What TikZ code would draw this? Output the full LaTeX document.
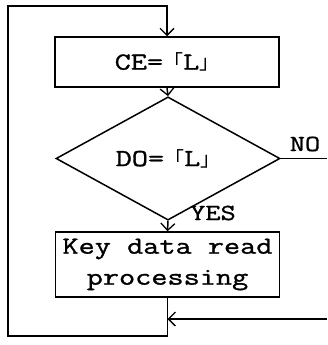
\documentclass[tikz,border=0pt]{standalone}
\usepackage{fontspec}
\setmonofont[FakeStretch=1.28,FakeBold=1.2]{Latin Modern Mono}
\newfontfamily\cjkfont{Noto Sans CJK JP}
\usetikzlibrary{shapes.geometric,arrows.meta}
\newcommand{\kopen}{{\cjkfont\fontsize{20}{20}\selectfont 「}}
\newcommand{\kclose}{{\cjkfont\fontsize{20}{20}\selectfont 」}}
\tikzset{
  flow/.style={line width=1.5pt},
  arr/.style={flow, -{Straight Barb[length=7pt,width=14pt,line width=1.3pt]}},
  stepbox/.style={draw, flow, minimum width=224pt, inner sep=0pt, align=center,
    font=\ttfamily\fontsize{24.5}{31}\selectfont},
  decision/.style={draw, flow, diamond, minimum width=224pt, minimum height=81pt,
    inner sep=0pt, font=\ttfamily\fontsize{24.5}{31}\selectfont},
  lbl/.style={font=\ttfamily\fontsize{23}{26}\selectfont, inner sep=0pt}
}

\begin{document}
\begin{tikzpicture}[x=1pt,y=-1pt]
        \useasboundingbox (0,0) rectangle (327,345);
        % Blocks
        \node[stepbox, minimum height=50pt] (ce) at (167,62) {CE=\kopen L\kclose};
        \node[decision] (do) at (168,158.5) {DO=\kopen L\kclose};
        \node[stepbox, minimum height=65pt] (key) at (167.5,264.5) {Key data read\\processing};
        % Loop corners
        \coordinate (tl) at (8,6);
        \coordinate (bl) at (8,336);
        \coordinate (br) at (key.south |- bl);
        \coordinate (inR) at (327,319);
        \coordinate (join) at (key.south |- inR);
        \coordinate (edge) at (327,0);
        \coordinate (outR) at (edge |- do.east);
        % Connectors
        \draw[arr] (ce.south) -- (do.north);
        \draw[arr] (do.south) -- (key.north);
        \draw[flow] (do.east) -- (outR);
        \draw[arr] (key.south) -- (br) -- (bl) -- (tl) -- (tl -| ce.north) -- (ce.north);
        \draw[arr] (inR) -- (join);
        % Labels
        \node[lbl] (no) at (305,144) {NO};
        \node[lbl] (yes) at (213,213) {YES};
\end{tikzpicture}
\end{document}
